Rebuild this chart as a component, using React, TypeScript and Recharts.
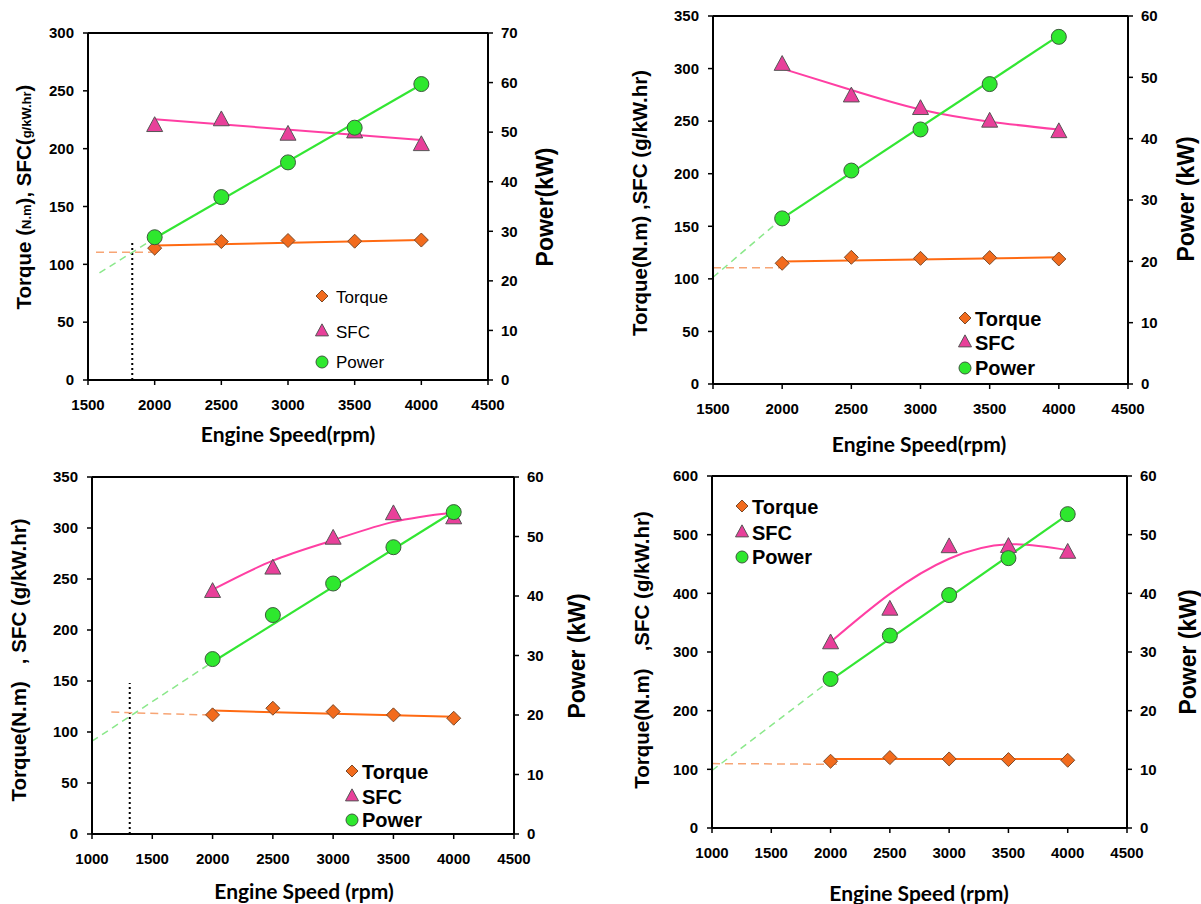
import React from "react";
import { ComposedChart, Line, Scatter, XAxis, YAxis, ReferenceLine } from "recharts";

type Pt = [number, number];

const rpm = [2000, 2500, 3000, 3500, 4000];

// panel a (top left)
const torqueA = [114, 119.7, 120.6, 120, 121];
const sfcA = [220, 225, 212.5, 214.5, 203.5];
const powerA = [28.8, 36.9, 43.9, 50.9, 59.7];
const torqueFitA: Pt[] = [[2000, 116.2], [4000, 121]];
const torqueExtA: Pt[] = [[1560, 110.5], [1980, 110.5]];
const sfcFitA: Pt[] = [[2000, 225.5], [4000, 207.5]];
const powerFitA: Pt[] = [[2000, 28.6], [4000, 59.6]];
const powerExtA: Pt[] = [[1586, 21.6], [2000, 28.6]];
const dropA: Pt[] = [[1832, 0], [1832, 120]];

// panel b (top right)
const torqueB = [114.8, 120.5, 119.5, 120.2, 118.9];
const sfcB = [304, 274, 262, 250, 240];
const powerB = [27, 34.8, 41.5, 48.9, 56.6];
const torqueFitB: Pt[] = [[2000, 116.4], [4000, 120.5]];
const torqueExtB: Pt[] = [[1500, 110.6], [2000, 110.6]];
const sfcFitB: Pt[] = [[2000, 300], [2500, 279.6], [3000, 261], [3500, 249.5], [4000, 242]];
const powerFitB: Pt[] = [[2000, 27], [4000, 56.8]];
const powerExtB: Pt[] = [[1500, 17.4], [2000, 27]];

// panel c (bottom left)
const torqueC = [116.8, 123.3, 120, 116.8, 113.5];
const sfcC = [237.8, 260.7, 290, 314, 310];
const powerC = [29.4, 36.8, 42.1, 48.2, 54.1];
const torqueFitC: Pt[] = [[2000, 121], [4000, 115]];
const torqueExtC: Pt[] = [[1160, 119.5], [2000, 116.5]];
const sfcFitC: Pt[] = [[2000, 239.5], [2500, 268], [3000, 288], [3500, 306], [4000, 315.3]];
const powerFitC: Pt[] = [[2000, 28.9], [4000, 54.2]];
const powerExtC: Pt[] = [[1000, 15.6], [2000, 28.9]];
const dropC: Pt[] = [[1313, 0], [1313, 148]];

// panel d (bottom right)
const torqueD = [113.8, 120, 117.7, 116.6, 115.5];
const sfcD = [315.7, 373, 479.5, 480, 470];
const powerD = [25.4, 32.8, 39.7, 46, 53.5];
const torqueFitD: Pt[] = [[2000, 117.5], [4000, 117.5]];
const torqueExtD: Pt[] = [[1000, 109.8], [2065, 108.6]];
const sfcFitD: Pt[] = [[2000, 317], [2500, 399], [3000, 459], [3500, 483.5], [4000, 473.5]];
const powerFitD: Pt[] = [[2000, 25.2], [4000, 53.4]];
const powerExtD: Pt[] = [[1000, 9.8], [2000, 25.2]];

const ticks1500 = [1500, 2000, 2500, 3000, 3500, 4000, 4500];
const ticks1000 = [1000, 1500, 2000, 2500, 3000, 3500, 4000, 4500];

const pts = (p: Pt[]) => p.map(([x, y]) => ({ x, y }));
const zip = (ys: number[]) => rpm.map((x, i) => ({ x, y: ys[i] }));

const ORANGE = "#F26B1D";
const PINK = "#E8409A";
const GREEN = "#2EE82E";
const TORQUE_LINE = "#FF6A12";
const SFC_LINE = "#FF3FA3";
const POWER_LINE = "#33E633";
const ARIAL = "'Liberation Sans', Arial, sans-serif";

const Diamond = ({ cx, cy, r = 7 }: any) => (
  <polygon points={`${cx},${cy - r} ${cx + r},${cy} ${cx},${cy + r} ${cx - r},${cy}`} fill={ORANGE} stroke="#7a4a2a" strokeWidth={1} />
);
const Triangle = ({ cx, cy, r = 8 }: any) => (
  <polygon points={`${cx},${cy - r * 1.1} ${cx + r},${cy + r * 0.75} ${cx - r},${cy + r * 0.75}`} fill={PINK} stroke="#555" strokeWidth={1} />
);
const Dot = ({ cx, cy, r = 7.5 }: any) => <circle cx={cx} cy={cy} r={r} fill={GREEN} stroke="#3d5a3d" strokeWidth={1} />;

interface PanelCfg {
  plot: { left: number; top: number; right: number; bottom: number };
  xTicks: number[];
  leftMax: number;
  leftStep: number;
  rightMax: number;
  torque: number[];
  sfc: number[];
  power: number[];
  torqueFit: Pt[];
  torqueExt: Pt[];
  sfcFit: Pt[];
  powerFit: Pt[];
  powerExt: Pt[];
  drop?: Pt[];
  curve: "linear" | "natural";
  leftTitle: React.ReactNode;
  leftPos: [number, number];
  rightTitle: string;
  rightPos: [number, number];
  xTitle: string;
  xPos: [number, number];
  legend: { x: number; rows: number[]; bold: boolean; size: number };
}

const range = (max: number, step: number) => {
  const out: number[] = [];
  for (let v = 0; v <= max; v += step) out.push(v);
  return out;
};

const tickStyle = { fill: "#000", fontSize: 15, fontWeight: 700, fontFamily: ARIAL };

function rotated(x: number, y: number, size: number): React.CSSProperties {
  return {
    position: "absolute",
    left: x,
    top: y,
    transform: "translate(-50%, -50%) rotate(-90deg)",
    whiteSpace: "pre",
    fontFamily: ARIAL,
    fontWeight: 700,
    fontSize: size,
    color: "#000",
    lineHeight: 1,
  };
}

function Legend({ cfg }: { cfg: PanelCfg }) {
  const { x, rows, bold, size } = cfg.legend;
  const items = [
    { name: "Torque", mark: <Diamond cx={8} cy={8} r={6} /> },
    { name: "SFC", mark: <Triangle cx={8} cy={8} r={6.5} /> },
    { name: "Power", mark: <Dot cx={8} cy={9} r={6} /> },
  ];
  return (
    <>
      {items.map((it, i) => (
        <div key={it.name} style={{ position: "absolute", left: x - 8, top: rows[i] - 11, height: 22, display: "flex", alignItems: "center" }}>
          <svg width={16} height={18} style={{ marginRight: bold ? 2 : 6 }}>{it.mark}</svg>
          <span style={{ fontFamily: ARIAL, fontWeight: bold ? 700 : 400, fontSize: size, lineHeight: 1, color: "#000" }}>{it.name}</span>
        </div>
      ))}
    </>
  );
}

function Panel({ cfg }: { cfg: PanelCfg }) {
  const { plot } = cfg;
  const w = plot.right - plot.left + 120;
  const h = plot.bottom - plot.top + 60;
  const xDomain = [cfg.xTicks[0], cfg.xTicks[cfg.xTicks.length - 1]];
  return (
    <>
      <div style={{ position: "absolute", left: plot.left - 60, top: plot.top - 10 }}>
        <ComposedChart width={w} height={h} margin={{ top: 10, right: 10, bottom: 10, left: 10 }}>
          <XAxis type="number" dataKey="x" domain={xDomain} ticks={cfg.xTicks} height={40} tick={tickStyle}
            axisLine={{ stroke: "#000", strokeWidth: 2 }} tickLine={{ stroke: "#000", strokeWidth: 1.5 }} tickSize={5} tickMargin={14} />
          <YAxis yAxisId="l" type="number" dataKey="y" domain={[0, cfg.leftMax]} ticks={range(cfg.leftMax, cfg.leftStep)} width={50}
            tick={tickStyle} axisLine={{ stroke: "#000", strokeWidth: 2 }} tickLine={{ stroke: "#000", strokeWidth: 1.5 }} tickSize={5} tickMargin={9} />
          <YAxis yAxisId="r" orientation="right" type="number" dataKey="y" domain={[0, cfg.rightMax]} ticks={range(cfg.rightMax, 10)} width={50}
            tick={tickStyle} axisLine={{ stroke: "#000", strokeWidth: 2 }} tickLine={{ stroke: "#000", strokeWidth: 1.5 }} tickSize={5} tickMargin={8} />
          <ReferenceLine yAxisId="l" y={cfg.leftMax} stroke="#000" strokeWidth={2} />

          {cfg.drop && (
            <Line yAxisId="l" data={pts(cfg.drop)} dataKey="y" stroke="#000" strokeWidth={2} strokeDasharray="2 3"
              dot={false} activeDot={false} isAnimationActive={false} legendType="none" />
          )}
          <Line yAxisId="l" data={pts(cfg.torqueExt)} dataKey="y" stroke="#F7A575" strokeWidth={1.5} strokeDasharray="8 5"
            dot={false} activeDot={false} isAnimationActive={false} legendType="none" />
          <Line yAxisId="r" data={pts(cfg.powerExt)} dataKey="y" stroke="#8BE88B" strokeWidth={1.5} strokeDasharray="7 5"
            dot={false} activeDot={false} isAnimationActive={false} legendType="none" />
          <Line yAxisId="l" data={pts(cfg.torqueFit)} dataKey="y" stroke={TORQUE_LINE} strokeWidth={2}
            dot={false} activeDot={false} isAnimationActive={false} legendType="none" />
          <Line yAxisId="l" data={pts(cfg.sfcFit)} dataKey="y" type={cfg.curve} stroke={SFC_LINE} strokeWidth={2}
            dot={false} activeDot={false} isAnimationActive={false} legendType="none" />
          <Line yAxisId="r" data={pts(cfg.powerFit)} dataKey="y" stroke={POWER_LINE} strokeWidth={2.2}
            dot={false} activeDot={false} isAnimationActive={false} legendType="none" />

          <Scatter yAxisId="l" data={zip(cfg.torque)} dataKey="y" isAnimationActive={false}
            shape={(p: any) => <Diamond cx={p.cx} cy={p.cy} />} />
          <Scatter yAxisId="l" data={zip(cfg.sfc)} dataKey="y" isAnimationActive={false}
            shape={(p: any) => <Triangle cx={p.cx} cy={p.cy} />} />
          <Scatter yAxisId="r" data={zip(cfg.power)} dataKey="y" isAnimationActive={false}
            shape={(p: any) => <Dot cx={p.cx} cy={p.cy} />} />
        </ComposedChart>
      </div>
      <div style={rotated(cfg.leftPos[0], cfg.leftPos[1], 20.5)}>{cfg.leftTitle}</div>
      <div style={rotated(cfg.rightPos[0], cfg.rightPos[1], 23)}>{cfg.rightTitle}</div>
      <div style={{ position: "absolute", left: cfg.xPos[0], top: cfg.xPos[1], transform: "translate(-50%, -50%)", whiteSpace: "pre",
        fontFamily: "Lato, 'Liberation Sans', sans-serif", fontWeight: 700, fontSize: 21, lineHeight: 1, color: "#000" }}>{cfg.xTitle}</div>
      <Legend cfg={cfg} />
    </>
  );
}

const small = { fontSize: 13 };

const panels: PanelCfg[] = [
  {
    plot: { left: 88, top: 33, right: 488, bottom: 380 },
    xTicks: ticks1500, leftMax: 300, leftStep: 50, rightMax: 70,
    torque: torqueA, sfc: sfcA, power: powerA,
    torqueFit: torqueFitA, torqueExt: torqueExtA, sfcFit: sfcFitA, powerFit: powerFitA, powerExt: powerExtA, drop: dropA,
    curve: "linear",
    leftTitle: <>Torque (<span style={small}>N.m</span>), SFC(<span style={small}>g/kW.hr</span>)</>,
    leftPos: [24, 197], rightTitle: "Power(kW)", rightPos: [545, 207], xTitle: "Engine Speed(rpm)", xPos: [288, 433],
    legend: { x: 322, rows: [297, 332, 362], bold: false, size: 17 },
  },
  {
    plot: { left: 713, top: 16, right: 1128, bottom: 384 },
    xTicks: ticks1500, leftMax: 350, leftStep: 50, rightMax: 60,
    torque: torqueB, sfc: sfcB, power: powerB,
    torqueFit: torqueFitB, torqueExt: torqueExtB, sfcFit: sfcFitB, powerFit: powerFitB, powerExt: powerExtB,
    curve: "natural",
    leftTitle: "Torque(N.m) ,SFC (g/kW.hr)",
    leftPos: [640, 203], rightTitle: "Power (kW)", rightPos: [1186, 199], xTitle: "Engine Speed(rpm)", xPos: [919, 443],
    legend: { x: 965, rows: [319, 343, 368], bold: true, size: 20 },
  },
  {
    plot: { left: 92, top: 477, right: 514, bottom: 834 },
    xTicks: ticks1000, leftMax: 350, leftStep: 50, rightMax: 60,
    torque: torqueC, sfc: sfcC, power: powerC,
    torqueFit: torqueFitC, torqueExt: torqueExtC, sfcFit: sfcFitC, powerFit: powerFitC, powerExt: powerExtC, drop: dropC,
    curve: "natural",
    leftTitle: "Torque(N.m)   , SFC (g/kW.hr)",
    leftPos: [19, 660], rightTitle: "Power (kW)", rightPos: [577, 656], xTitle: "Engine Speed (rpm)", xPos: [304, 890],
    legend: { x: 352, rows: [772, 797, 820], bold: true, size: 20 },
  },
  {
    plot: { left: 712, top: 476, right: 1127, bottom: 828 },
    xTicks: ticks1000, leftMax: 600, leftStep: 100, rightMax: 60,
    torque: torqueD, sfc: sfcD, power: powerD,
    torqueFit: torqueFitD, torqueExt: torqueExtD, sfcFit: sfcFitD, powerFit: powerFitD, powerExt: powerExtD,
    curve: "natural",
    leftTitle: "Torque(N.m)   ,SFC (g/kW.hr)",
    leftPos: [642, 650], rightTitle: "Power (kW)", rightPos: [1188, 652], xTitle: "Engine Speed (rpm)", xPos: [919, 892],
    legend: { x: 742, rows: [507, 533, 557], bold: true, size: 20 },
  },
];

export default function App() {
  return (
    <div style={{ position: "absolute", left: 0, top: 0, width: 1201, height: 904, background: "#fff", overflow: "hidden" }}>
      {panels.map((cfg, i) => (
        <Panel key={i} cfg={cfg} />
      ))}
    </div>
  );
}
